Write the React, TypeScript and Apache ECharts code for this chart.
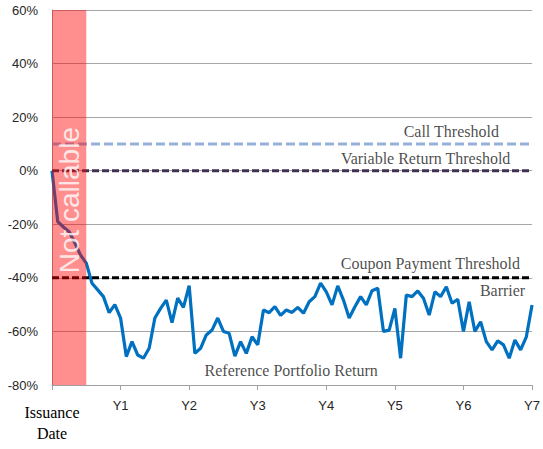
import React, { useEffect, useRef } from "react";
import * as echarts from "echarts";

// X axis: months since issuance (0..84), labelled every 12 months
const xTickLabels = ["Issuance Date", "Y1", "Y2", "Y3", "Y4", "Y5", "Y6", "Y7"];
const monthsPerYear = 12;
const totalMonths = 84;

// Y axis
const yMin = -80;
const yMax = 60;
const yStep = 20;

// Reference portfolio return (%) at each month 0..84
const portfolioReturn = [
  0, -19, -21, -22.8, -27, -31.5, -34.5, -42, -44.5, -47, -53, -50,
  -55, -69.4, -63.8, -68.8, -70, -66.3, -55, -51.4, -48.3, -56.7, -47.6, -51,
  -42.9, -68.2, -66.3, -61.3, -59.5, -55, -60, -60.7, -69.2, -63.8, -68.2, -62,
  -65, -52, -53, -50.7, -54, -52, -52.9, -51, -53.2, -48.9, -47, -42,
  -45.2, -50.1, -43, -48.3, -55, -50.8, -47, -50.1, -44.8, -43.9, -60, -59.5,
  -51.4, -70, -46.4, -47, -44.9, -47.6, -53.9, -45.2, -47, -43.3, -49.5, -48,
  -60, -48.9, -60, -56.4, -63.8, -66.9, -63.5, -65, -70, -63.2, -66.9, -62,
  -50.1,
];

// Threshold levels (%)
const thresholdNames = ["Call Threshold", "Variable Return Threshold", "Coupon Payment Threshold"];
const thresholdLevels = [10, 0, -40];
const thresholdColors = ["#95B0D9", "#403152", "#000000"];

// Non-callable period (months)
const notCallablePeriod = [0, 6];
const notCallableText = "Not callable";

// Annotation texts
const annotationTexts = [
  "Call Threshold",
  "Variable Return Threshold",
  "Coupon Payment Threshold",
  "Barrier",
  "Reference Portfolio Return",
];
// Annotation anchors in data units [month, %] and alignment
const annotationAnchors = [
  { at: [78.2, 14.8], align: "right" },
  { at: [80.2, 4.7], align: "right" },
  { at: [81.9, -34.5], align: "right" },
  { at: [82.8, -44.6], align: "right" },
  { at: [26.7, -74.4], align: "left" },
];

const SERIF = "'Liberation Serif', 'Times New Roman', serif";
const SANS = "'Liberation Sans', Arial, sans-serif";

export default function App() {
  const ref = useRef<HTMLDivElement>(null);

  useEffect(() => {
    if (!ref.current) return;
    const chart = echarts.init(ref.current, undefined, { renderer: "svg" });

    const thresholdSeries = thresholdLevels.map((lvl, i) => ({
      name: thresholdNames[i],
      type: "line",
      data: [
        [0, lvl],
        [totalMonths, lvl],
      ],
      symbol: "none",
      z: 3,
      lineStyle: {
        color: thresholdColors[i],
        width: 3,
        type: i === 0 ? [9, 4] : [7, 3],
      },
    }));

    const option = {
      animation: false,
      grid: { left: 52, right: 9, top: 10, bottom: 64, containLabel: false },
      xAxis: {
        type: "value",
        min: 0,
        max: totalMonths,
        interval: monthsPerYear,
        splitLine: { show: false },
        axisLine: { show: true, onZero: false, lineStyle: { color: "#A0A0A0", width: 1 } },
        axisTick: { show: true, length: 5, lineStyle: { color: "#A0A0A0" } },
        axisLabel: {
          margin: 14,
          color: "#262626",
          fontFamily: SANS,
          fontSize: 13,
          formatter: (v: number) => {
            const idx = Math.round(v / monthsPerYear);
            const t = xTickLabels[idx] ?? "";
            if (idx === 0) {
              return t
                .split(" ")
                .map((w) => `{s|${w}}`)
                .join("\n");
            }
            return t;
          },
          rich: {
            s: { fontFamily: SERIF, fontSize: 16, lineHeight: 21, color: "#000", padding: [6, 0, 0, 0] },
          },
        },
      },
      yAxis: {
        type: "value",
        min: yMin,
        max: yMax,
        interval: yStep,
        axisLine: { show: true, lineStyle: { color: "#A0A0A0", width: 1 } },
        axisTick: { show: false },
        splitLine: { show: true, lineStyle: { color: "#A6A6A6", width: 1 } },
        axisLabel: {
          margin: 14,
          color: "#262626",
          fontFamily: SANS,
          fontSize: 13,
          formatter: (v: number) => `${v}%`,
        },
      },
      series: [
        {
          name: "Reference Portfolio Return",
          type: "line",
          data: portfolioReturn.map((v, i) => [i, v]),
          symbol: "none",
          z: 2,
          lineStyle: { color: "#0070C0", width: 3.2 },
        },
        ...thresholdSeries,
        {
          name: "band",
          type: "line",
          data: [],
          z: 10,
          markArea: {
            silent: true,
            z: 10,
            itemStyle: { color: "rgba(255,0,0,0.44)" },
            data: [[{ xAxis: notCallablePeriod[0] }, { xAxis: notCallablePeriod[1] }]],
          },
        },
        {
          name: "notCallable",
          type: "scatter",
          z: 11,
          symbolSize: 0,
          silent: true,
          data: [[(notCallablePeriod[0] + notCallablePeriod[1]) / 2 + 0.1, -11]],
          label: {
            show: true,
            position: [0, 0],
            rotate: 90,
            align: "center",
            verticalAlign: "middle",
            formatter: notCallableText,
            color: "#FFFFFF",
            fontFamily: SANS,
            fontSize: 28,
          },
        },
        {
          name: "annotations",
          type: "scatter",
          z: 12,
          symbolSize: 0,
          silent: true,
          data: annotationAnchors.map((a, i) => ({
            value: a.at,
            label: {
              show: true,
              position: [0, 0],
              align: a.align,
              verticalAlign: "middle",
              formatter: annotationTexts[i],
              color: "#1A1A1A",
              fontFamily: SERIF,
              fontSize: 16,
            },
          })),
        },
      ],
    };

    chart.setOption(option as any);
    return () => chart.dispose();
  }, []);

  return (
    <div
      ref={ref}
      style={{ position: "fixed", left: 0, top: 0, width: 543, height: 449, background: "#fff" }}
    />
  );
}
